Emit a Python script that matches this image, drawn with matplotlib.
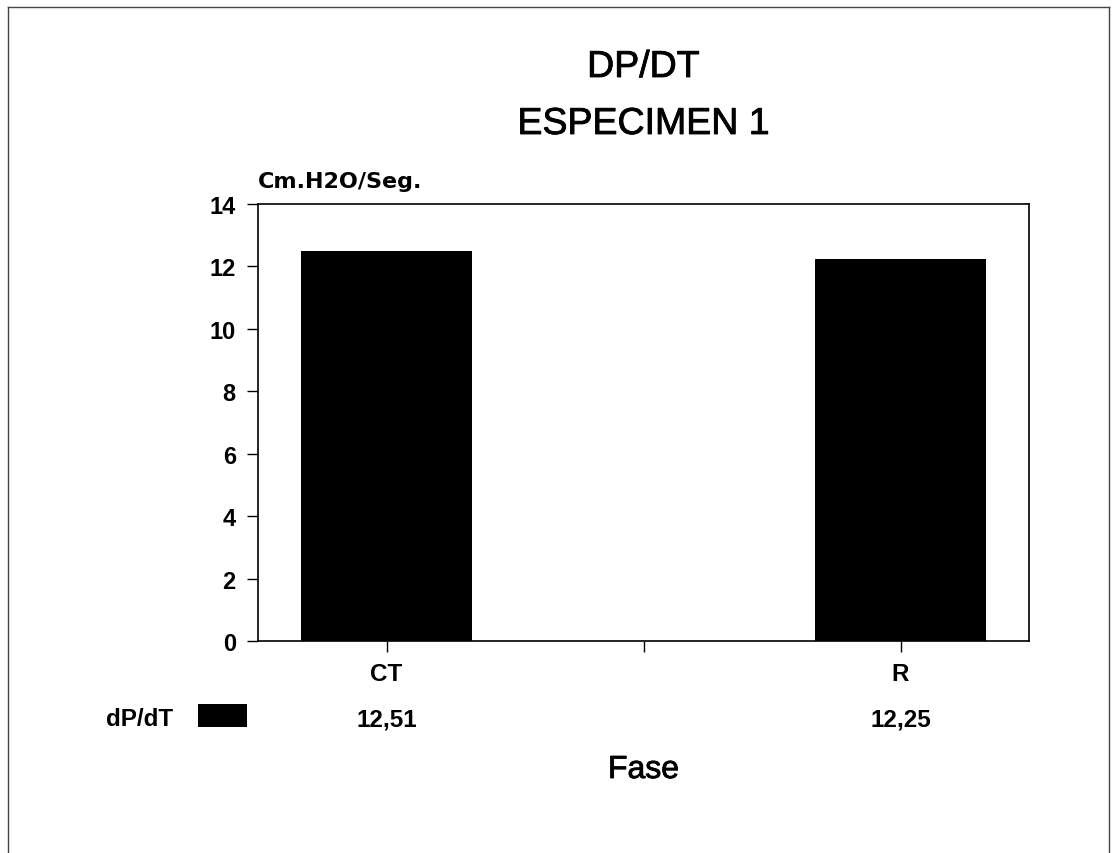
import matplotlib

matplotlib.use("Agg")
import matplotlib.patheffects as pe
import matplotlib.pyplot as plt
import matplotlib.transforms as mtransforms
from matplotlib.lines import Line2D
from matplotlib.patches import Rectangle

# data
phases = ["CT", "R"]
dpdt = [12.51, 12.25]
value_labels = ["12,51", "12,25"]
yticks = [0, 2, 4, 6, 8, 10, 12, 14]

plt.rcParams["font.family"] = ["Liberation Sans", "DejaVu Sans"]

W, H = 1113, 854
fig = plt.figure(figsize=(W / 100, H / 100), dpi=100)
fig.patch.set_facecolor("white")


def fx(px):
    return px / W


def fy(py):
    return 1 - py / H


# scanned print: strokes run a little heavier than the regular face
ink = [pe.withStroke(linewidth=0.6, foreground="black")]

ax = fig.add_axes([fx(258), fy(642), fx(1029) - fx(258), fy(205) - fy(642)])

pos = list(range(len(phases)))
ax.bar(pos, dpdt, width=1 / 3, color="black", edgecolor="none")

ax.set_xlim(-0.25, 1.25)
ax.set_ylim(0, 14)
ax.set_yticks(yticks)
ax.set_yticklabels([str(t) for t in yticks], fontsize=17, fontweight="bold")
ax.set_xticks([0, 0.5, 1])
ax.set_xticklabels([phases[0], "", phases[1]], fontsize=17.5, fontweight="bold")
ax.tick_params(axis="y", direction="out", length=8, width=1, pad=8)
ax.tick_params(axis="x", direction="out", length=8, width=1, pad=7)
for side in ax.spines.values():
    side.set_linewidth(1.2)

ax.text(0, 1.053, "Cm.H2O/Seg.", transform=ax.transAxes, ha="left", va="center",
        fontsize=16, fontweight="bold", family=["DejaVu Sans"])

# title, two lines
cx = (fx(258) + fx(1029)) / 2
fig.text(cx, fy(78), "DP/DT", ha="center", va="baseline", fontsize=27, path_effects=ink)
fig.text(cx, fy(135), "ESPECIMEN 1", ha="center", va="baseline", fontsize=27, path_effects=ink)

# data table row under the axis
row = mtransforms.blended_transform_factory(ax.transData, fig.transFigure)
for x, lab in zip(pos, value_labels):
    ax.text(x, fy(720), lab, transform=row, ha="center", va="center",
            fontsize=17.5, fontweight="bold")
fig.text(fx(173), fy(719), "dP/dT", ha="right", va="center", fontsize=17.5, fontweight="bold")
fig.patches.append(Rectangle((fx(198), fy(728)), fx(247) - fx(198), fy(705) - fy(728),
                             transform=fig.transFigure, facecolor="black", edgecolor="none"))

fig.text(cx, fy(779), "Fase", ha="center", va="baseline", fontsize=23, path_effects=ink)

# page frame from the scan
frame = dict(color="#444444", linewidth=1.0, transform=fig.transFigure)
fig.lines.append(Line2D([fx(8), fx(8)], [fy(8), 0], **frame))
fig.lines.append(Line2D([fx(8), fx(1109)], [fy(8), fy(8)], **frame))
fig.lines.append(Line2D([fx(1109), fx(1109)], [fy(8), 0], **frame))

fig.savefig("out.png", dpi=100)
